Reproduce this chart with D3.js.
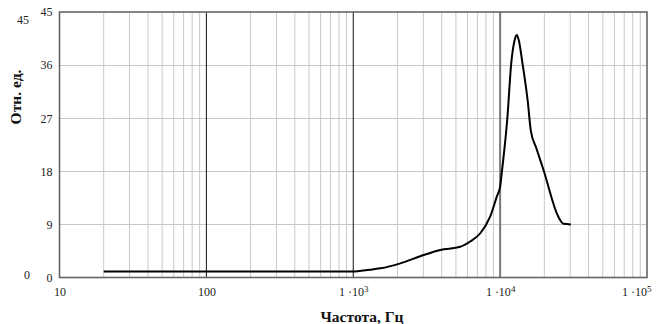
<!DOCTYPE html>
<html>
<head>
<meta charset="utf-8">
<script src="https://cdn.jsdelivr.net/npm/d3@7/dist/d3.min.js"></script>
<style>
  html, body { margin: 0; padding: 0; background: #fff; }
  svg { display: block; }
  text { font-family: "Liberation Serif", "Times New Roman", serif; }
</style>
</head>
<body>
<svg id="chart" width="660" height="324"></svg>
<script>
// Frequency response samples (Hz → relative units)
const freq  = [20, 100, 1000, 1100, 1300, 1530, 2090, 2860, 3910, 5350, 6250, 7330,
               8550, 9490, 10000, 10300, 11200, 11900, 12600, 12990, 13400, 14200,
               15400, 16200, 17600, 19700, 24900, 27000, 30300];
const level = [1, 1, 1, 1.1, 1.3, 1.55, 2.4, 3.6, 4.66, 5.2, 6.1, 7.5,
               10.3, 13.7, 15.4, 18.1, 27, 36.3, 40.4, 41.1, 40.2, 36.3,
               30, 24.8, 22, 18.3, 10.3, 9.1, 9.0];

// Axis ticks
const xMajor = [10, 100, 1000, 10000, 100000];
const xLabels = [["10", null], ["100", null], ["1 ·10", "3"], ["1 ·10", "4"], ["1 ·10", "5"]];
const yTicks = [0, 9, 18, 27, 36, 45];

const xTitle = "Частота, Гц";
const yTitle = "Отн. ед.";

const svg = d3.select("#chart");
const plotL = 59.5, plotR = 647, plotT = 12, plotB = 277.5;

const x = d3.scaleLog().domain([10, 100000]).range([plotL, plotR]);
const y = d3.scaleLinear().domain([0, 45]).range([plotB, plotT]);

// minor decade gridlines (2..9 × 10^n)
const xMinor = [];
for (let d = 10; d < 100000; d *= 10)
  for (let k = 2; k <= 9; k++) xMinor.push(d * k);

const grid = svg.append("g");
grid.selectAll("line.minor").data(xMinor).join("line")
  .attr("x1", d => x(d)).attr("x2", d => x(d))
  .attr("y1", plotT).attr("y2", plotB)
  .attr("stroke", "#c8c8c8").attr("stroke-width", 1);

grid.selectAll("line.h").data(yTicks.slice(1, -1)).join("line")
  .attr("x1", plotL).attr("x2", plotR)
  .attr("y1", d => Math.round(y(d)) + 0.5).attr("y2", d => Math.round(y(d)) + 0.5)
  .attr("stroke", "#c8c8c8").attr("stroke-width", 1);

grid.selectAll("line.major").data(xMajor.slice(1, -1)).join("line")
  .attr("x1", d => x(d)).attr("x2", d => x(d))
  .attr("y1", plotT).attr("y2", plotB)
  .attr("stroke", (d, i) => i === 2 ? "#777" : "#111")
  .attr("stroke-width", (d, i) => i === 2 ? 2 : 1);

// plot frame
svg.append("rect")
  .attr("x", plotL).attr("y", plotT)
  .attr("width", plotR - plotL).attr("height", plotB - plotT)
  .attr("fill", "none").attr("stroke", "#666").attr("stroke-width", 1.6);

// response curve
const line = d3.line()
  .x((d, i) => x(freq[i]))
  .y(d => y(d))
  .curve(d3.curveMonotoneX);

svg.append("path")
  .datum(level)
  .attr("d", line)
  .attr("fill", "none")
  .attr("stroke", "#000")
  .attr("stroke-width", 2)
  .attr("stroke-linejoin", "round");

// y axis labels
const yAxis = d3.axisLeft(y).tickValues(yTicks).tickSize(0).tickPadding(7)
  .tickFormat(d3.format("d"));
const gy = svg.append("g").attr("transform", `translate(${plotL},0)`).call(yAxis);
gy.select(".domain").remove();
gy.selectAll("text").attr("font-size", 12).attr("fill", "#222")
  .style("font-family", "'Liberation Serif', serif");

// x axis labels with superscript exponents
const xAxis = d3.axisBottom(x).tickValues(xMajor).tickSize(0).tickPadding(10)
  .tickFormat(() => "");
const gx = svg.append("g").attr("transform", `translate(0,${plotB})`).call(xAxis);
gx.select(".domain").remove();
gx.selectAll(".tick text").each(function (d, i) {
  const t = d3.select(this)
    .attr("font-size", 12).attr("fill", "#222")
    .style("font-family", "'Liberation Serif', serif");
  const [base, exp] = xLabels[i];
  t.append("tspan").text(base);
  if (exp) t.append("tspan").attr("dy", "-0.45em").attr("font-size", 9).text(exp);
  if (i === xLabels.length - 1) t.attr("text-anchor", "end").attr("x", 4);
});

// axis range markers at the left edge
svg.append("text").attr("x", 23).attr("y", 24).attr("text-anchor", "middle")
  .attr("font-size", 12).attr("fill", "#222").text(yTicks[yTicks.length - 1]);
svg.append("text").attr("x", 27).attr("y", 279).attr("text-anchor", "middle")
  .attr("font-size", 12).attr("fill", "#222").text(yTicks[0]);

// titles
svg.append("text")
  .attr("x", 362).attr("y", 322).attr("text-anchor", "middle")
  .attr("font-size", 15.5).attr("font-weight", "bold").attr("fill", "#111")
  .text(xTitle);

svg.append("text")
  .attr("transform", "translate(21,97) rotate(-90)")
  .attr("text-anchor", "middle")
  .attr("font-size", 15.5).attr("font-weight", "bold").attr("fill", "#111")
  .text(yTitle);
</script>
</body>
</html>
